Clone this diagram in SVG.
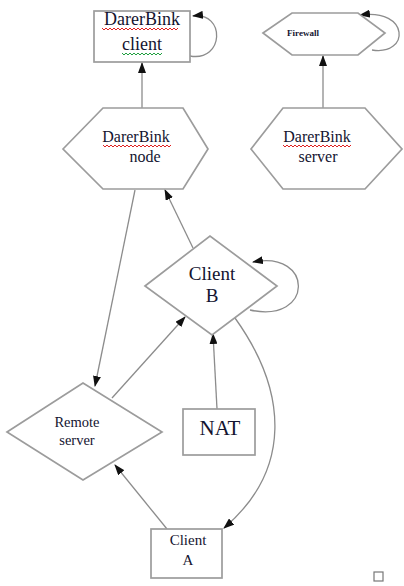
<svg xmlns="http://www.w3.org/2000/svg" width="404" height="586" viewBox="0 0 404 586">
<style>
.shape{fill:#fff;stroke:#9c9c9c;stroke-width:1.7}
.edge{fill:none;stroke:#8c8c8c;stroke-width:1.3}
text{font-family:"Liberation Serif","Times New Roman",serif;fill:#141430;text-anchor:middle}
.spellr{fill:none;stroke:#e02020;stroke-width:1}
.spellg{fill:none;stroke:#20a040;stroke-width:1}
</style>
<defs>
<marker id="ah" markerWidth="11" markerHeight="8" refX="10" refY="4" orient="auto" markerUnits="userSpaceOnUse">
<path d="M0,0 L11,4 L0,8 Z" fill="#111"/>
</marker>
</defs>
<rect width="404" height="586" fill="#fff"/>
<g id="connectors">
<path class="edge" d="M190,56 C224,62 226,12 193,16" marker-end="url(#ah)"/>
<path class="edge" d="M372,50 C410,56 410,8 360,15" marker-end="url(#ah)"/>
<path class="edge" d="M142,108 L142,63" marker-end="url(#ah)"/>
<path class="edge" d="M323,108 L323,56" marker-end="url(#ah)"/>
<path class="edge" d="M193,248 L165,190" marker-end="url(#ah)"/>
<path class="edge" d="M135,190 L95,386" marker-end="url(#ah)"/>
<path class="edge" d="M112,398 L185,317" marker-end="url(#ah)"/>
<path class="edge" d="M250,310 C314,324 314,250 253,262" marker-end="url(#ah)"/>
<path class="edge" d="M217,409 L213,334" marker-end="url(#ah)"/>
<path class="edge" d="M235,318 C288,392 292,470 224,528" marker-end="url(#ah)"/>
<path class="edge" d="M167,529 L115,465" marker-end="url(#ah)"/>
</g>
<g id="darerbink-client">
<rect class="shape" x="94" y="11" width="96" height="51"/>
<text x="142" y="25" font-size="18">DarerBink</text>
<text x="142" y="50" font-size="18">client</text>
<path class="spellr" d="M102,28 l2,2 l2,-2 l2,2 l2,-2 l2,2 l2,-2 l2,2 l2,-2 l2,2 l2,-2 l2,2 l2,-2 l2,2 l2,-2 l2,2 l2,-2 l2,2 l2,-2 l2,2 l2,-2 l2,2 l2,-2 l2,2 l2,-2 l2,2 l2,-2 l2,2 l2,-2 l2,2 l2,-2 l2,2 l2,-2 l2,2 l2,-2 l2,2 l2,-2 l2,2 l2,-2"/>
<path class="spellg" d="M122,53 l2,2 l2,-2 l2,2 l2,-2 l2,2 l2,-2 l2,2 l2,-2 l2,2 l2,-2 l2,2 l2,-2 l2,2 l2,-2 l2,2 l2,-2 l2,2 l2,-2 l2,2 l2,-2"/>
</g>
<g id="firewall">
<polygon class="shape" points="263,33 292,13 358,13 385,33 358,55 292,55"/>
<text x="303" y="36" font-size="9" font-weight="bold">Firewall</text>
</g>
<g id="darerbink-node">
<polygon class="shape" points="63,149 103,108 183,108 208,149 183,189 103,189"/>
<text x="136" y="142" font-size="16">DarerBink</text>
<text x="145" y="162" font-size="16">node</text>
<path class="spellr" d="M103,145 l2,2 l2,-2 l2,2 l2,-2 l2,2 l2,-2 l2,2 l2,-2 l2,2 l2,-2 l2,2 l2,-2 l2,2 l2,-2 l2,2 l2,-2 l2,2 l2,-2 l2,2 l2,-2 l2,2 l2,-2 l2,2 l2,-2 l2,2 l2,-2 l2,2 l2,-2 l2,2 l2,-2 l2,2 l2,-2 l2,2 l2,-2"/>
</g>
<g id="darerbink-server">
<polygon class="shape" points="251,149 283,108 365,108 402,149 365,189 283,189"/>
<text x="317" y="142" font-size="16">DarerBink</text>
<text x="318" y="162" font-size="16">server</text>
<path class="spellr" d="M283,145 l2,2 l2,-2 l2,2 l2,-2 l2,2 l2,-2 l2,2 l2,-2 l2,2 l2,-2 l2,2 l2,-2 l2,2 l2,-2 l2,2 l2,-2 l2,2 l2,-2 l2,2 l2,-2 l2,2 l2,-2 l2,2 l2,-2 l2,2 l2,-2 l2,2 l2,-2 l2,2 l2,-2 l2,2 l2,-2 l2,2 l2,-2"/>
</g>
<g id="client-b">
<polygon class="shape" points="145,286 210,236 277,286 212,335"/>
<text x="212" y="280" font-size="19">Client</text>
<text x="212" y="302" font-size="19">B</text>
</g>
<g id="remote-server">
<polygon class="shape" points="7,432 83,383 162,432 83,480"/>
<text x="77" y="427" font-size="14.5">Remote</text>
<text x="77" y="445" font-size="14.5">server</text>
</g>
<g id="nat">
<rect class="shape" x="183" y="409" width="72" height="46"/>
<text x="220" y="435" font-size="21">NAT</text>
</g>
<g id="client-a">
<rect class="shape" x="151" y="529" width="71" height="49"/>
<text x="188" y="545" font-size="15">Client</text>
<text x="188" y="565" font-size="15">A</text>
</g>
<rect x="374" y="572" width="9" height="9" fill="#fff" stroke="#777" stroke-width="1.2"/>
</svg>
